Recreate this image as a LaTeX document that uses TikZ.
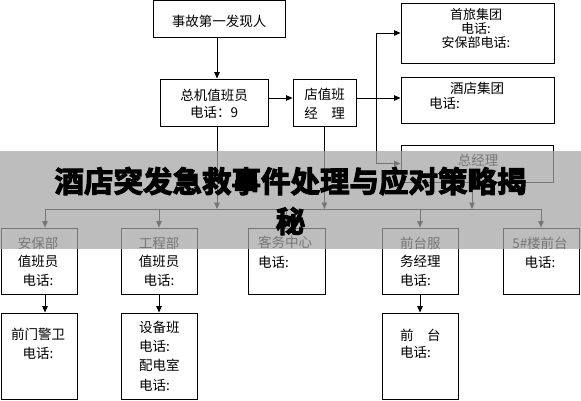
\documentclass[tikz,border=0pt]{standalone}
\usepackage{fontspec}
\usetikzlibrary{arrows.meta}
\newfontfamily\cjk{Noto Sans CJK SC}
\newfontfamily\titlefont{Noto Sans CJK SC Bold}[FakeBold=3.5]
\definecolor{bannergray}{RGB}{164,164,164}
\tikzset{
  box/.style={draw, line width=0.9pt, inner sep=0pt},
  txt/.style={inner sep=0pt, font=\cjk\fontsize{13.5}{18.5}\selectfont},
  arr/.style={line width=0.9pt, -{Triangle[length=6.5pt,width=5.5pt]}},
}
\begin{document}
\begin{tikzpicture}[x=1pt,y=-1pt]
\useasboundingbox (0,0) rectangle (581,400);
% helper coordinates
\coordinate (x45) at (45,0);
\coordinate (x217) at (217,0);
\coordinate (x472) at (472,0);
\coordinate (y98) at (0,98);
\coordinate (bus) at (0,209);
\coordinate (j) at (376,98);
% boxes
\node[box, minimum width=132pt, minimum height=37pt] (first) at (219,19) {};
\node[box, minimum width=108pt, minimum height=47pt] (zj) at (214,102.5) {};
\node[box, minimum width=63pt, minimum height=47pt] (dz) at (324.5,102.5) {};
\node[box, minimum width=153pt, minimum height=60pt] (sl) at (477.5,33) {};
\node[box, minimum width=153pt, minimum height=46pt] (jd) at (477.5,100) {};
\node[box, minimum width=152pt, minimum height=37pt] (zjl) at (477,163.5) {};
\node[box, minimum width=76pt, minimum height=66pt] (ab) at (39,261) {};
\node[box, minimum width=76pt, minimum height=66pt] (gc) at (159,261) {};
\node[box, minimum width=77pt, minimum height=66pt] (kw) at (286.5,261) {};
\node[box, minimum width=76pt, minimum height=66pt] (qf) at (420,261) {};
\node[box, minimum width=76pt, minimum height=66pt] (lou) at (541,261) {};
\node[box, minimum width=76pt, minimum height=86pt] (mj) at (39,356) {};
\node[box, minimum width=76pt, minimum height=86pt] (sb) at (159,356) {};
\node[box, minimum width=76pt, minimum height=86pt] (qt) at (420,356) {};
% texts
\node[txt] (firstT) at (219,21) {事故第一发现人};
\node[txt, align=center, font=\cjk\fontsize{13.5}{17}\selectfont] (zjT) at (214,103.5) {总机值班员\\电话：9};
\node[txt, align=center, font=\cjk\fontsize{13.5}{19}\selectfont] (dzT) at (324.5,103.5) {店值班\\经\hspace{13.5pt}理};
\node[txt, align=center, font=\cjk\fontsize{13}{14}\selectfont] (slT) at (476,29) {首旅集团\\电话:\\安保部电话:};
\node[txt] (jdT1) at (477,88) {酒店集团};
\node[txt, anchor=west] (jdT2) at (429,103) {电话:};
\node[txt] (zjlT) at (478,160) {总经理};
\node[txt, align=center] (abT) at (38,261.5) {安保部\\值班员\\电话:};
\node[txt, align=center] (gcT) at (159,261.5) {工程部\\值班员\\电话:};
\node[txt, align=left, anchor=west, font=\cjk\fontsize{13.5}{20}\selectfont] (kwT) at (258,252) {客务中心\\电话:};
\node[txt, align=left, anchor=west] (qfT) at (400,261.5) {前台服\\务经理\\电话:};
\node[txt, align=center, font=\cjk\fontsize{13.5}{19}\selectfont] (louT) at (540,252.5) {5\#楼前台\\电话:};
\node[txt, align=center] (mjT) at (38,344) {前门警卫\\电话:};
\node[txt, align=left, anchor=west, font=\cjk\fontsize{13.5}{19.3}\selectfont] (sbT) at (139,356) {设备班\\电话:\\配电室\\电话:};
\node[txt, align=left, anchor=west, font=\cjk\fontsize{13.5}{17}\selectfont] (qtT) at (400,343.5) {前\hspace{13.5pt}台\\电话:};
% connectors
\draw[arr] (first.south -| x217) -- (zj.north -| x217);
\draw[arr] (zj.east |- y98) -- (dz.west |- y98);
\draw[arr] (dz.east |- y98) -- (jd.west |- y98);
\draw[arr] (j) |- (sl.west);
\draw[arr] (j) |- (zjl.west);
\draw[arr] (zj.south -| x217) -- (x217 |- bus);
\draw[arr] (dz.south) -- (dz.south |- bus);
\draw[arr] (zjl.south -| x472) -- (x472 |- bus);
\draw[line width=0.9pt, {Triangle[length=6.5pt,width=5.5pt]}-{Triangle[length=6.5pt,width=5.5pt]}]
  (ab.north -| x45) |- (lou.north |- bus) -- (lou.north);
\draw[arr] (gc.north |- bus) -- (gc.north);
\draw[arr] (kw.north |- bus) -- (kw.north);
\draw[arr] (qf.north |- bus) -- (qf.north);
\draw[arr] (ab.south -| x45) -- (mj.north -| x45);
\draw[arr] (gc.south) -- (sb.north);
\draw[arr] (qf.south) -- (qt.north);
% banner overlay
\fill[bannergray, fill opacity=0.725] (0,151) rectangle (581,249);
\node[inner sep=0pt, align=center, font=\titlefont\fontsize{29.5}{40}\selectfont] (title) at (290.5,201) {酒店突发急救事件处理与应对策略揭\\秘};
\end{tikzpicture}
\end{document}
